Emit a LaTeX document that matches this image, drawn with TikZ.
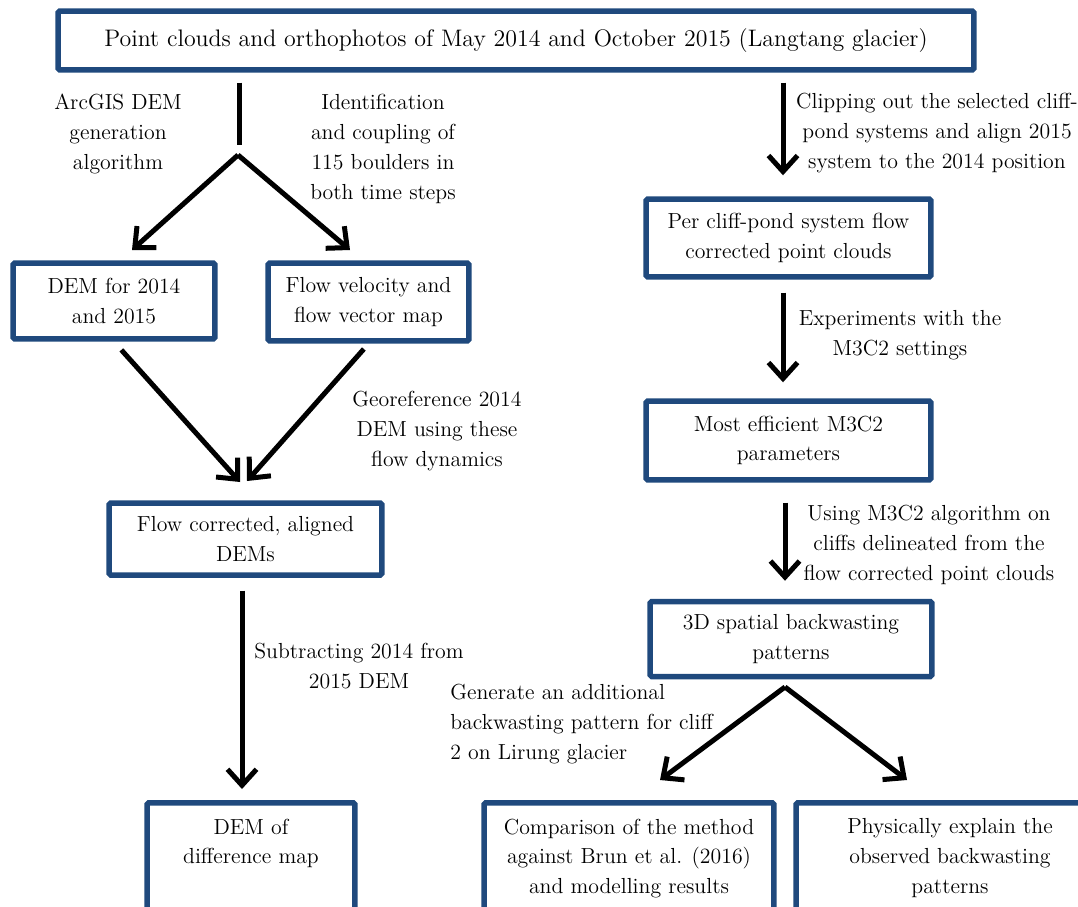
\documentclass[tikz,border=0pt]{standalone}
\usepackage{fontspec}
\usetikzlibrary{arrows.meta}
\definecolor{boxblue}{RGB}{31,73,125}
\begin{document}
\begin{tikzpicture}[x=0.02cm,y=-0.02cm,
  box/.style={draw=boxblue,line width=0.11cm,rounded corners=1pt,align=center,inner sep=0pt,font=\fontsize{12.4}{17}\selectfont},
  openbox/.style={box,anchor=north,inner ysep=0.32cm,text depth=2cm},
  lbl/.style={align=center,inner sep=0pt,font=\fontsize{12.4}{17}\selectfont},
  stem/.style={line width=0.1cm},
  arr/.style={line width=0.1cm,-{Straight Barb[length=0.32cm,width=0.58cm]}}]
\useasboundingbox (0,0) rectangle (1078,906);
\clip (0,0) rectangle (1078,906);
\node[box,minimum width=18.32cm,minimum height=1.18cm,font=\fontsize{13.6}{17}\selectfont] (top) at (516,40.5) {Point clouds and orthophotos of May 2014 and October 2015 (Langtang glacier)};
\node[box,minimum width=4.04cm,minimum height=1.52cm] (dem) at (114,301) {DEM for 2014\\and 2015};
\node[box,minimum width=4.02cm,minimum height=1.56cm] (flow) at (368.5,302) {Flow velocity and\\flow vector map};
\node[box,minimum width=5.46cm,minimum height=1.44cm] (aligned) at (245.5,539) {Flow corrected, aligned\\DEMs};
\node[openbox,minimum width=4.16cm] (diff) at (251,800) {DEM of\\difference map};
\node[box,minimum width=5.7cm,minimum height=1.56cm] (percliff) at (788.5,238) {Per cliff-pond system flow\\corrected point clouds};
\node[box,minimum width=5.7cm,minimum height=1.58cm] (m3c2) at (788.5,440.5) {Most efficient M3C2\\parameters};
\node[box,minimum width=5.64cm,minimum height=1.5cm] (spatial) at (791,639) {3D spatial backwasting\\patterns};
\node[openbox,minimum width=5.8cm] (compare) at (629,800) {Comparison of the method\\against Brun et al. (2016)\\and modelling results};
\node[openbox,minimum width=6.16cm] (physical) at (950,800) {Physically explain the\\observed backwasting\\patterns};
\node[lbl] (arcgis) at (118,134) {ArcGIS DEM\\generation\\algorithm};
\node[lbl] (ident) at (383,149) {Identification\\and coupling of\\115 boulders in\\both time steps};
\node[lbl] (georef) at (437,431) {Georeference 2014\\DEM using these\\flow dynamics};
\node[lbl] (subtract) at (359,666) {Subtracting 2014 from\\2015 DEM};
\node[lbl] (clip) at (937,133) {Clipping out the selected cliff-\\pond systems and align 2015\\system to the 2014 position};
\node[lbl] (exper) at (900,335) {Experiments with the\\M3C2 settings};
\node[lbl] (using) at (929,545) {Using M3C2 algorithm on\\cliffs delineated from the\\flow corrected point clouds};
\node[lbl,align=left,anchor=west] (generate) at (450,724) {Generate an additional\\backwasting pattern for cliff\\2 on Lirung glacier};
\coordinate (stemend) at (239,145);
\coordinate (fork) at (238,155);
\coordinate (demtip) at (132,250);
\coordinate (flowtip) at (350,250);
\coordinate (meetl) at (240,482);
\coordinate (meetr) at (247,481);
\coordinate (split) at (785,687);
\coordinate (comparetip) at (660,780);
\coordinate (physicaltip) at (907,780);
\draw[stem,shorten <=0.2cm] (top.south -| stemend) -- (stemend);
\draw[arr] (fork) -- (demtip);
\draw[arr] (fork) -- (flowtip);
\draw[arr,shorten <=0.22cm] (dem.south) -- (meetl);
\draw[arr,shorten <=0.14cm] (flow.south) -- (meetr);
\draw[arr,shorten <=0.26cm,shorten >=0.22cm] ([xshift=-0.07cm]aligned.south) -- ([xshift=-0.07cm]aligned.south |- diff.north);
\draw[arr,shorten <=0.2cm,shorten >=0.42cm] ([xshift=-0.11cm]top.south -| percliff.north) -- ([xshift=-0.11cm]percliff.north);
\draw[arr,shorten <=0.26cm,shorten >=0.32cm] ([xshift=-0.11cm]percliff.south) -- ([xshift=-0.11cm]m3c2.north);
\draw[arr,shorten <=0.4cm,shorten >=0.36cm] ([xshift=-0.07cm]m3c2.south) -- ([xshift=-0.07cm]m3c2.south |- spatial.north);
\draw[arr] (split) -- (comparetip);
\draw[arr] (split) -- (physicaltip);
\end{tikzpicture}
\end{document}
